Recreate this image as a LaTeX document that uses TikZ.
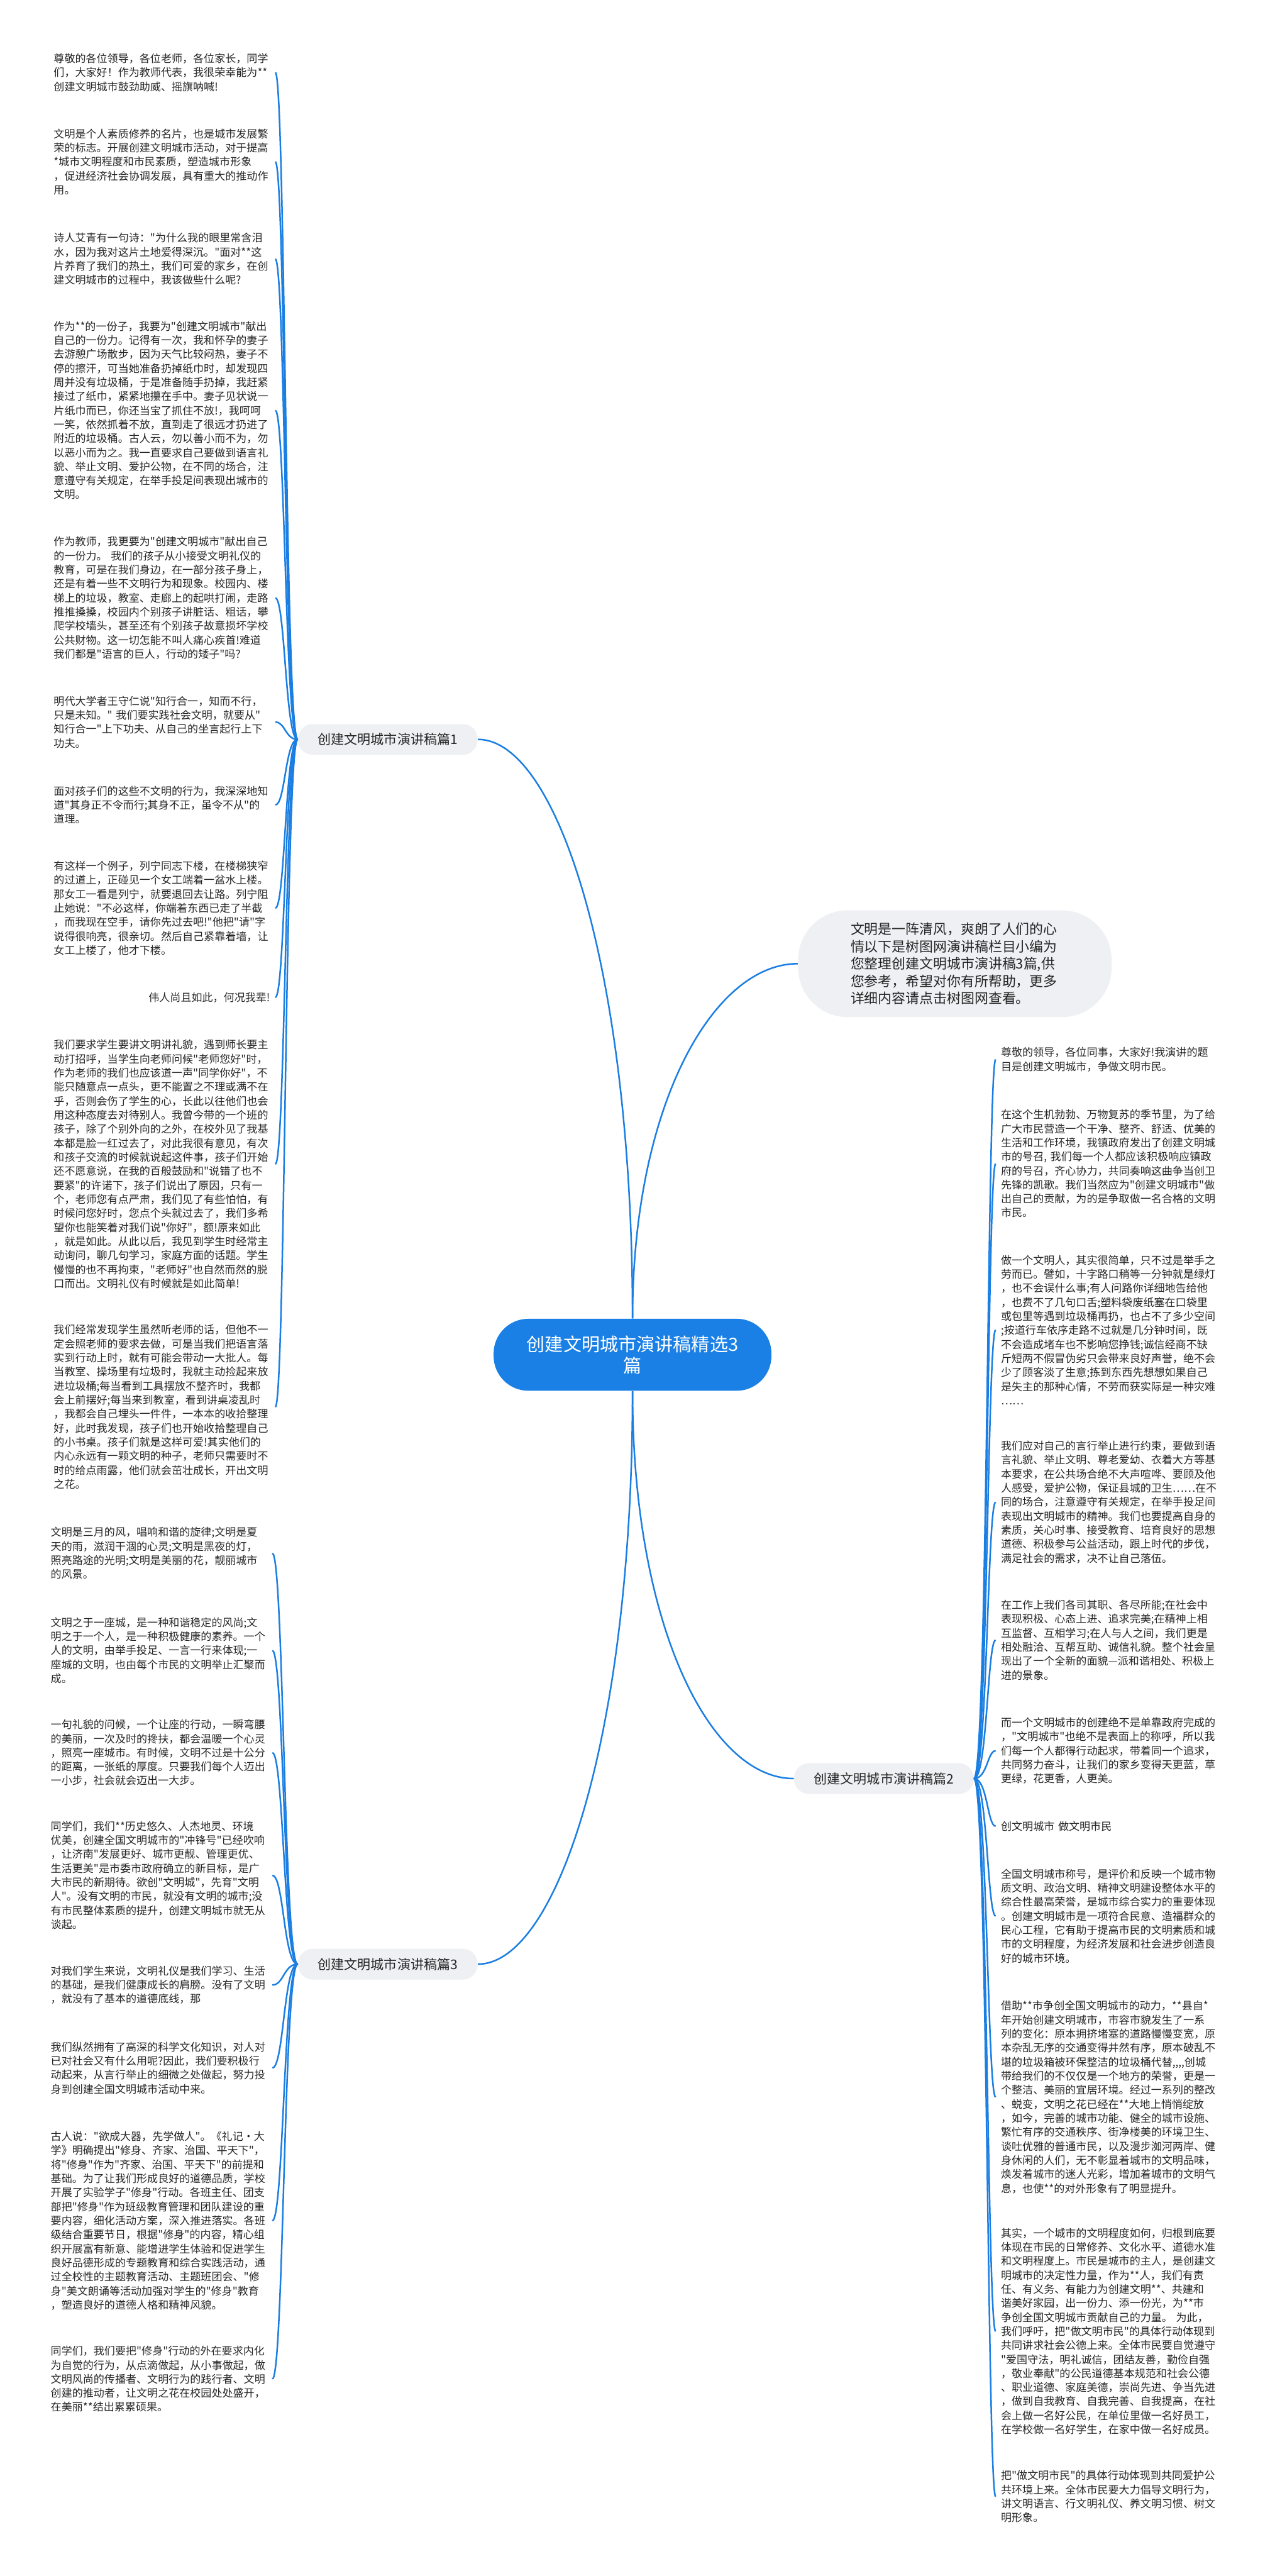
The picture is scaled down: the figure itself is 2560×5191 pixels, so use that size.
\documentclass[tikz,border=0pt]{standalone}
\usepackage{fontspec}
\newfontfamily\cjk{Noto Sans CJK SC}
\usetikzlibrary{calc,positioning}
\definecolor{linkblue}{HTML}{1A7EE2}
\definecolor{rootblue}{HTML}{1A80E6}
\definecolor{pillgray}{HTML}{EEF0F3}
\definecolor{inkgray}{HTML}{262626}

\begin{document}
\begin{tikzpicture}[x=0.1mm, y=-0.1mm,
	link/.style={draw=linkblue, line width=0.9pt},
	para/.style={font={\cjk\fontsize{6.15pt}{8.05pt}\selectfont}, text=inkgray, text width=43.6mm, align=left, inner xsep=1mm, inner ysep=0.5mm},
	topic/.style={fill=pillgray, rounded corners=3mm, font={\cjk\fontsize{7.6pt}{9pt}\selectfont}, text=inkgray, minimum height=6.2mm, inner xsep=4mm},
	root/.style={fill=rootblue, text=white, rounded corners=7mm, font={\cjk\fontsize{10.5pt}{12.2pt}\selectfont}, align=center, minimum width=56mm, minimum height=14.5mm},
	intro/.style={fill=pillgray, rounded corners=10mm, font={\cjk\fontsize{7.9pt}{9.96pt}\selectfont}, text=inkgray, text width=42mm, align=left, inner xsep=10.6mm, minimum height=21.5mm}]
	\useasboundingbox (0,0) rectangle (2560,5191);
	\fill[white] (0,0) rectangle (2560,5191);

	\node[root] (root) at (1275,2730) {创建文明城市演讲稿精选3\\篇};
	\node[intro, anchor=west] (intro) at (1608,1942) {文明是一阵清风，爽朗了人们的心\\情以下是树图网演讲稿栏目小编为\\您整理创建文明城市演讲稿3篇,供\\您参考，希望对你有所帮助，更多\\详细内容请点击树图网查看。};
	\node[topic, anchor=west] (b1) at (600,1490) {创建文明城市演讲稿篇1};
	\node[topic, anchor=west] (b2) at (1600,3584) {创建文明城市演讲稿篇2};
	\node[topic, anchor=west] (b3) at (600,3958) {创建文明城市演讲稿篇3};

	\draw[link] (root.north) .. controls +(0,-700) and +(160,0) .. (b1.east);
	\draw[link] (root.north) .. controls +(0,-430) and +(-170,0) .. (intro.west);
	\draw[link] (root.south) .. controls +(0,470) and +(-170,0) .. (b2.west);
	\draw[link] (root.south) .. controls +(0,690) and +(160,0) .. (b3.east);

	% 篇1
	\node[para, anchor=east] (p1) at (555,146) {尊敬的各位领导，各位老师，各位家长，同学\\们，大家好！作为教师代表，我很荣幸能为**\\创建文明城市鼓劲助威、摇旗呐喊!};
	\node[para, anchor=east] (p2) at (555,326) {文明是个人素质修养的名片，也是城市发展繁\\荣的标志。开展创建文明城市活动，对于提高\\**城市文明程度和市民素质，塑造城市形象\\，促进经济社会协调发展，具有重大的推动作\\用。};
	\node[para, anchor=east] (p3) at (555,522) {诗人艾青有一句诗："为什么我的眼里常含泪\\水，因为我对这片土地爱得深沉。"面对**这\\片养育了我们的热土，我们可爱的家乡，在创\\建文明城市的过程中，我该做些什么呢?};
	\node[para, anchor=east] (p4) at (555,827) {作为**的一份子，我要为"创建文明城市"献出\\自己的一份力。记得有一次，我和怀孕的妻子\\去游憩广场散步，因为天气比较闷热，妻子不\\停的擦汗，可当她准备扔掉纸巾时，却发现四\\周并没有垃圾桶，于是准备随手扔掉，我赶紧\\接过了纸巾，紧紧地攥在手中。妻子见状说一\\片纸巾而已，你还当宝了抓住不放!，我呵呵\\一笑，依然抓着不放，直到走了很远才扔进了\\附近的垃圾桶。古人云，勿以善小而不为，勿\\以恶小而为之。我一直要求自己要做到语言礼\\貌、举止文明、爱护公物，在不同的场合，注\\意遵守有关规定，在举手投足间表现出城市的\\文明。};
	\node[para, anchor=east] (p5) at (555,1205) {作为教师，我更要为"创建文明城市"献出自己\\的一份力。~我们的孩子从小接受文明礼仪的\\教育，可是在我们身边，在一部分孩子身上，\\还是有着一些不文明行为和现象。校园内、楼\\梯上的垃圾，教室、走廊上的起哄打闹，走路\\推推搡搡，校园内个别孩子讲脏话、粗话，攀\\爬学校墙头，甚至还有个别孩子故意损坏学校\\公共财物。这一切怎能不叫人痛心疾首!难道\\我们都是"语言的巨人，行动的矮子"吗?};
	\node[para, anchor=east] (p6) at (555,1455) {明代大学者王守仁说"知行合一，知而不行，\\只是未知。"~我们要实践社会文明，就要从"\\知行合一"上下功夫、从自己的坐言起行上下\\功夫。};
	\node[para, anchor=east] (p7) at (555,1622) {面对孩子们的这些不文明的行为，我深深地知\\道"其身正不令而行;其身不正，虽令不从"的\\道理。};
	\node[para, anchor=east] (p8) at (555,1830) {有这样一个例子，列宁同志下楼，在楼梯狭窄\\的过道上，正碰见一个女工端着一盆水上楼。\\那女工一看是列宁，就要退回去让路。列宁阻\\止她说："不必这样，你端着东西已走了半截\\，而我现在空手，请你先过去吧!"他把"请"字\\说得很响亮，很亲切。然后自己紧靠着墙，让\\女工上楼了，他才下楼。};
	\node[para, anchor=east, align=right] (p9) at (555,2010) {伟人尚且如此，何况我辈!};
	\node[para, anchor=east] (p10) at (555,2346) {我们要求学生要讲文明讲礼貌，遇到师长要主\\动打招呼，当学生向老师问候"老师您好"时，\\作为老师的我们也应该道一声"同学你好"，不\\能只随意点一点头，更不能置之不理或满不在\\乎，否则会伤了学生的心，长此以往他们也会\\用这种态度去对待别人。我曾今带的一个班的\\孩子，除了个别外向的之外，在校外见了我基\\本都是脸一红过去了，对此我很有意见，有次\\和孩子交流的时候就说起这件事，孩子们开始\\还不愿意说，在我的百般鼓励和"说错了也不\\要紧"的许诺下，孩子们说出了原因，只有一\\个，老师您有点严肃，我们见了有些怕怕，有\\时候问您好时，您点个头就过去了，我们多希\\望你也能笑着对我们说"你好"，额!原来如此\\，就是如此。从此以后，我见到学生时经常主\\动询问，聊几句学习，家庭方面的话题。学生\\慢慢的也不再拘束，"老师好"也自然而然的脱\\口而出。文明礼仪有时候就是如此简单!};
	\node[para, anchor=east] (p11) at (555,2835) {我们经常发现学生虽然听老师的话，但他不一\\定会照老师的要求去做，可是当我们把语言落\\实到行动上时，就有可能会带动一大批人。每\\当教室、操场里有垃圾时，我就主动捡起来放\\进垃圾桶;每当看到工具摆放不整齐时，我都\\会上前摆好;每当来到教室，看到讲桌凌乱时\\，我都会自己埋头一件件，一本本的收拾整理\\好，此时我发现，孩子们也开始收拾整理自己\\的小书桌。孩子们就是这样可爱!其实他们的\\内心永远有一颗文明的种子，老师只需要时不\\时的给点雨露，他们就会茁壮成长，开出文明\\之花。};

	% 篇3
	\node[para, anchor=east] (p12) at (549,3130) {文明是三月的风，唱响和谐的旋律;文明是夏\\天的雨，滋润干涸的心灵;文明是黑夜的灯，\\照亮路途的光明;文明是美丽的花，靓丽城市\\的风景。};
	\node[para, anchor=east] (p13) at (549,3326) {文明之于一座城，是一种和谐稳定的风尚;文\\明之于一个人，是一种积极健康的素养。一个\\人的文明，由举手投足、一言一行来体现;一\\座城的文明，也由每个市民的文明举止汇聚而\\成。};
	\node[para, anchor=east] (p14) at (549,3532) {一句礼貌的问候，一个让座的行动，一瞬弯腰\\的美丽，一次及时的搀扶，都会温暖一个心灵\\，照亮一座城市。有时候，文明不过是十公分\\的距离，一张纸的厚度。只要我们每个人迈出\\一小步，社会就会迈出一大步。};
	\node[para, anchor=east] (p15) at (549,3779) {同学们，我们**历史悠久、人杰地灵、环境\\优美，创建全国文明城市的"冲锋号"已经吹响\\，让济南"发展更好、城市更靓、管理更优、\\生活更美"是市委市政府确立的新目标，是广\\大市民的新期待。欲创"文明城"，先育"文明\\人"。没有文明的市民，就没有文明的城市;没\\有市民整体素质的提升，创建文明城市就无从\\谈起。};
	\node[para, anchor=east] (p16) at (549,4000) {对我们学生来说，文明礼仪是我们学习、生活\\的基础，是我们健康成长的肩膀。没有了文明\\，就没有了基本的道德底线，那};
	\node[para, anchor=east] (p17) at (549,4167) {我们纵然拥有了高深的科学文化知识，对人对\\已对社会又有什么用呢?因此，我们要积极行\\动起来，从言行举止的细微之处做起，努力投\\身到创建全国文明城市活动中来。};
	\node[para, anchor=east] (p18) at (549,4475) {古人说："欲成大器，先学做人"。《礼记•大\\学》明确提出"修身、齐家、治国、平天下"，\\将"修身"作为"齐家、治国、平天下"的前提和\\基础。为了让我们形成良好的道德品质，学校\\开展了实验学子"修身"行动。各班主任、团支\\部把"修身"作为班级教育管理和团队建设的重\\要内容，细化活动方案，深入推进落实。各班\\级结合重要节日，根据"修身"的内容，精心组\\织开展富有新意、能增进学生体验和促进学生\\良好品德形成的专题教育和综合实践活动，通\\过全校性的主题教育活动、主题班团会、"修\\身"美文朗诵等活动加强对学生的"修身"教育\\，塑造良好的道德人格和精神风貌。};
	\node[para, anchor=east] (p19) at (549,4794) {同学们，我们要把"修身"行动的外在要求内化\\为自觉的行为，从点滴做起，从小事做起，做\\文明风尚的传播者、文明行为的践行者、文明\\创建的推动者，让文明之花在校园处处盛开，\\在美丽**结出累累硕果。};

	% 篇2
	\node[para, anchor=west] (r1) at (2007,2135) {尊敬的领导，各位同事，大家好!我演讲的题\\目是创建文明城市，争做文明市民。};
	\node[para, anchor=west] (r2) at (2007,2345) {在这个生机勃勃、万物复苏的季节里，为了给\\广大市民营造一个干净、整齐、舒适、优美的\\生活和工作环境，我镇政府发出了创建文明城\\市的号召,~我们每一个人都应该积极响应镇政\\府的号召，齐心协力，共同奏响这曲争当创卫\\先锋的凯歌。我们当然应为"创建文明城市"做\\出自己的贡献，为的是争取做一名合格的文明\\市民。};
	\node[para, anchor=west] (r3) at (2007,2680) {做一个文明人，其实很简单，只不过是举手之\\劳而已。譬如，十字路口稍等一分钟就是绿灯\\，也不会误什么事;有人问路你详细地告给他\\，也费不了几句口舌;塑料袋废纸塞在口袋里\\或包里等遇到垃圾桶再扔，也占不了多少空间\\;按道行车依序走路不过就是几分钟时间，既\\不会造成堵车也不影响您挣钱;诚信经商不缺\\斤短两不假冒伪劣只会带来良好声誉，绝不会\\少了顾客淡了生意;拣到东西先想想如果自己\\是失主的那种心情，不劳而获实际是一种灾难\\……};
	\node[para, anchor=west] (r4) at (2007,3027) {我们应对自己的言行举止进行约束，要做到语\\言礼貌、举止文明、尊老爱幼、衣着大方等基\\本要求，在公共场合绝不大声喧哗、要顾及他\\人感受，爱护公物，保证县城的卫生……在不\\同的场合，注意遵守有关规定，在举手投足间\\表现出文明城市的精神。我们也要提高自身的\\素质，关心时事、接受教育、培育良好的思想\\道德、积极参与公益活动，跟上时代的步伐，\\满足社会的需求，决不让自己落伍。};
	\node[para, anchor=west] (r5) at (2007,3305) {在工作上我们各司其职、各尽所能;在社会中\\表现积极、心态上进、追求完美;在精神上相\\互监督、互相学习;在人与人之间，我们更是\\相处融洽、互帮互助、诚信礼貌。整个社会呈\\现出了一个全新的面貌—派和谐相处、积极上\\进的景象。};
	\node[para, anchor=west] (r6) at (2007,3528) {而一个文明城市的创建绝不是单靠政府完成的\\，"文明城市"也绝不是表面上的称呼，所以我\\们每一个人都得行动起求，带着同一个追求，\\共同努力奋斗，让我们的家乡变得天更蓝，草\\更绿，花更香，人更美。};
	\node[para, anchor=west] (r7) at (2007,3680) {创文明城市~做文明市民};
	\node[para, anchor=west] (r8) at (2007,3861) {全国文明城市称号，是评价和反映一个城市物\\质文明、政治文明、精神文明建设整体水平的\\综合性最高荣誉，是城市综合实力的重要体现\\。创建文明城市是一项符合民意、造福群众的\\民心工程，它有助于提高市民的文明素质和城\\市的文明程度，为经济发展和社会进步创造良\\好的城市环境。};
	\node[para, anchor=west] (r9) at (2007,4226) {借助**市争创全国文明城市的动力，**县自*\\*年开始创建文明城市，市容市貌发生了一系\\列的变化：原本拥挤堵塞的道路慢慢变宽，原\\本杂乱无序的交通变得井然有序，原本破乱不\\堪的垃圾箱被环保整洁的垃圾桶代替,,,,创城\\带给我们的不仅仅是一个地方的荣誉，更是一\\个整洁、美丽的宜居环境。经过一系列的整改\\、蜕变，文明之花已经在**大地上悄悄绽放\\，如今，完善的城市功能、健全的城市设施、\\繁忙有序的交通秩序、街净楼美的环境卫生、\\谈吐优雅的普通市民，以及漫步洳河两岸、健\\身休闲的人们，无不彰显着城市的文明品味，\\焕发着城市的迷人光彩，增加着城市的文明气\\息，也使**的对外形象有了明显提升。};
	\node[para, anchor=west] (r10) at (2007,4698) {其实，一个城市的文明程度如何，归根到底要\\体现在市民的日常修养、文化水平、道德水准\\和文明程度上。市民是城市的主人，是创建文\\明城市的决定性力量，作为**人，我们有责\\任、有义务、有能力为创建文明**、共建和\\谐美好家园，出一份力、添一份光，为**市\\争创全国文明城市贡献自己的力量。~为此，\\我们呼吁，把"做文明市民"的具体行动体现到\\共同讲求社会公德上来。全体市民要自觉遵守\\"爱国守法，明礼诚信，团结友善，勤俭自强\\，敬业奉献"的公民道德基本规范和社会公德\\、职业道德、家庭美德，崇尚先进、争当先进\\，做到自我教育、自我完善、自我提高，在社\\会上做一名好公民，在单位里做一名好员工，\\在学校做一名好学生，在家中做一名好成员。};
	\node[para, anchor=west] (r11) at (2007,5031) {把"做文明市民"的具体行动体现到共同爱护公\\共环境上来。全体市民要大力倡导文明行为，\\讲文明语言、行文明礼仪、养文明习惯、树文\\明形象。};

	\coordinate (bus1) at ($(b1.west)+(-25,0)$);
	\coordinate (bus2) at ($(b2.east)+(27,0)$);
	\coordinate (bus3) at ($(b3.west)+(-28,0)$);
	\foreach \t in {p1,p2,p3,p4,p5,p6,p7,p8,p9,p10,p11}
		\draw[link] (b1.west) .. controls (bus1) and (bus1 |- \t.east) .. (\t.east);
	\foreach \t in {p12,p13,p14,p15,p16,p17,p18,p19}
		\draw[link] (b3.west) .. controls (bus3) and (bus3 |- \t.east) .. (\t.east);
	\foreach \t in {r1,r2,r3,r4,r5,r6,r7,r8,r9,r10,r11}
		\draw[link] (b2.east) .. controls (bus2) and (bus2 |- \t.west) .. (\t.west);
\end{tikzpicture}
\end{document}
